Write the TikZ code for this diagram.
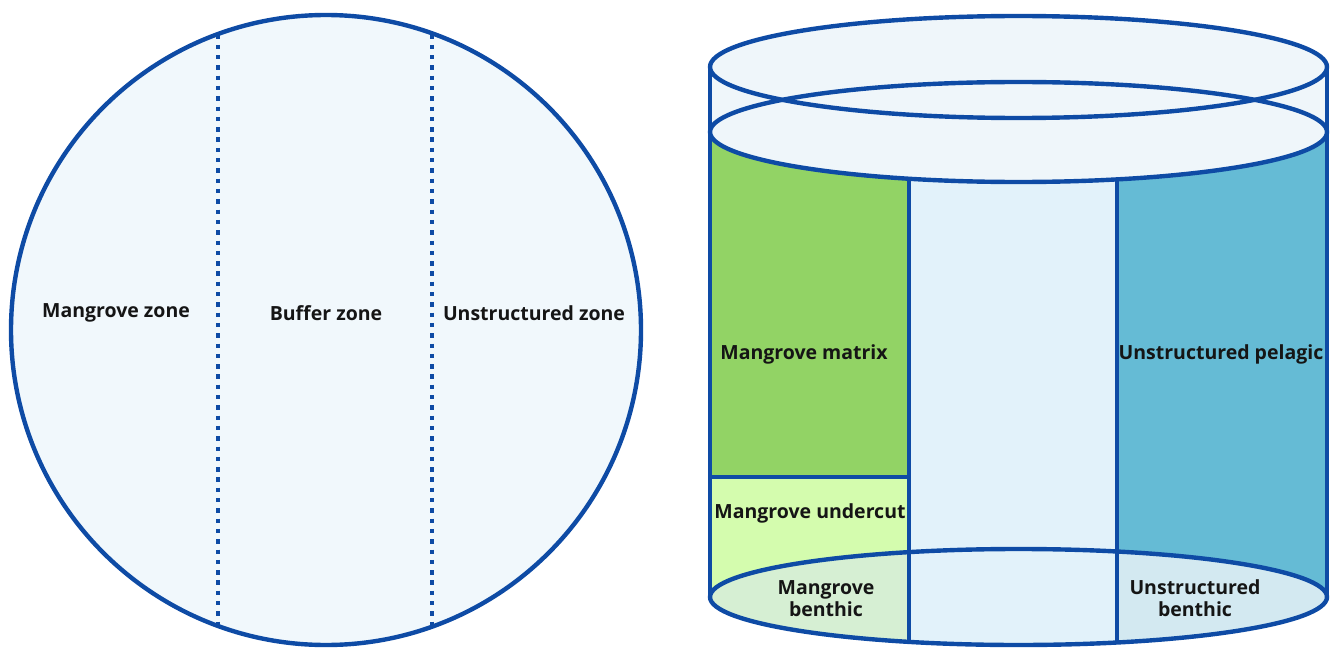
\documentclass[tikz,border=0pt]{standalone}
\usepackage{fontspec}
\setmainfont{Open Sans}
\begin{document}
\begin{tikzpicture}[x=1pt,y=-1pt,
  outl/.style={draw=lineblue,line width=4.4pt},
  dotline/.style={draw=lineblue,line width=4.6pt,dash pattern=on 4.4pt off 5.9pt},
  lbl/.style={font=\fontsize{19.5}{22}\selectfont\bfseries,text=txt,align=center,inner sep=0pt}]
\definecolor{lineblue}{HTML}{0E4BA5}
\definecolor{txt}{HTML}{151515}
\definecolor{circfill}{HTML}{F1F8FC}
\definecolor{topfill}{HTML}{EFF6FA}
\definecolor{matrixg}{HTML}{92D365}
\definecolor{undercutg}{HTML}{D4FCAE}
\definecolor{benthg}{HTML}{D6EFD3}
\definecolor{midblue}{HTML}{E2F2FA}
\definecolor{pelagic}{HTML}{65BBD5}
\definecolor{benthb}{HTML}{D3E9F1}
\useasboundingbox (0,0) rectangle (1333,650);
% ---------- left circle ----------
\fill[circfill] (326,330) circle[radius=315pt];
\coordinate (d1t) at (218,34.5);
\coordinate (d1b) at (218,625.5);
\coordinate (d2t) at (432,34.5);
\coordinate (d2b) at (432,625.5);
\draw[dotline] (d1t) -- (d1b);
\draw[dotline] (d2t) -- (d2b);
\draw[outl] (326,330) circle[radius=315pt];
\node[lbl] (mz) at (116,313) {Mangrove zone};
\node[lbl] (bz) at (326,313) {Buffer zone};
\node[lbl] (uz) at (534,313) {Unstructured zone};
% ---------- cylinder ----------
% columns
\fill[matrixg] (710,132) rectangle (909,477);
\fill[undercutg] (710,477) rectangle (909,597);
\fill[midblue] (909,132) rectangle (1117,597);
\fill[pelagic] (1117,132) rectangle (1327,597);
% top region between the rims
\fill[topfill] (710,67) rectangle (1327,132);
\fill[topfill] (1018.5,67) ellipse[x radius=308.5pt,y radius=51pt];
\fill[topfill] (1018.5,132) ellipse[x radius=308.5pt,y radius=50pt];
% bottom ellipse parts
\begin{scope}
  \clip (1018.5,597) ellipse[x radius=308.5pt,y radius=48pt];
  \fill[benthg] (700,540) rectangle (909,650);
  \fill[midblue] (909,540) rectangle (1117,650);
  \fill[benthb] (1117,540) rectangle (1335,650);
\end{scope}
% dividers
\coordinate (v1t) at (909,178.7);
\coordinate (v1b) at (909,641.9);
\coordinate (v2t) at (1117,179.4);
\coordinate (v2b) at (1117,642.5);
\coordinate (hl) at (710,477);
\coordinate (hr) at (909,477);
\draw[outl,line width=3.6pt] (v1t) -- (v1b);
\draw[outl,line width=3.6pt] (v2t) -- (v2b);
\draw[outl,line width=3.6pt] (hl) -- (hr);
% outlines
\coordinate (sl1) at (710,67);
\coordinate (sl2) at (710,597);
\coordinate (sr1) at (1327,67);
\coordinate (sr2) at (1327,597);
\draw[outl] (sl1) -- (sl2);
\draw[outl] (sr1) -- (sr2);
\draw[outl] (1018.5,67) ellipse[x radius=308.5pt,y radius=51pt];
\draw[outl] (1018.5,132) ellipse[x radius=308.5pt,y radius=50pt];
\draw[outl] (1018.5,597) ellipse[x radius=308.5pt,y radius=48pt];
% labels
\node[lbl] (mm) at (804,354) {Mangrove matrix};
\node[lbl] (up) at (1221,354) {Unstructured pelagic};
\node[lbl] (mu) at (810,513) {Mangrove undercut};
\node[lbl] (mb) at (826,599) {Mangrove\\benthic};
\node[lbl] (ub) at (1195,598) {Unstructured\\benthic};
\end{tikzpicture}
\end{document}
